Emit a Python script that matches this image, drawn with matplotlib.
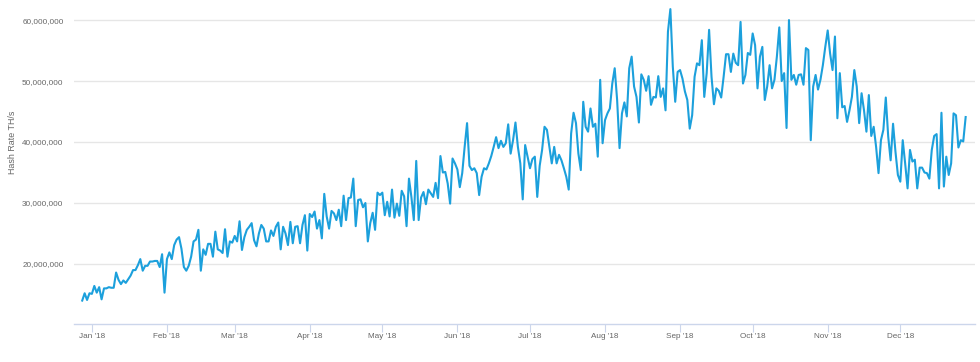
import pandas as pd
import matplotlib.pyplot as plt
from matplotlib.ticker import FuncFormatter

plt.rcParams['font.family'] = ['Liberation Sans', 'DejaVu Sans']

# daily hash rate, millions of TH/s, starting 2017-12-28
start_date = "2017-12-28"
hash_rate_m = [
    14.0, 15.2, 14.1, 15.2, 15.1, 16.4, 15.3, 16.2, 14.2, 16.0,
    16.0, 16.2, 16.1, 16.1, 18.6, 17.4, 16.7, 17.3, 16.9, 17.5,
    18.1, 19.0, 19.0, 19.8, 20.8, 18.9, 19.7, 19.7, 20.4, 20.4,
    20.5, 20.5, 19.5, 21.6, 15.3, 20.8, 21.9, 20.8, 23.1, 24.0,
    24.4, 22.5,
    19.5, 18.9, 19.7, 21.2, 23.7, 24.0, 25.6, 18.9, 22.4, 21.5,
    23.3, 23.3, 21.2, 25.3, 22.4, 22.2, 21.8, 25.7, 21.2, 23.7,
    23.5, 24.6, 23.7, 27.0, 22.3, 24.4, 25.6, 26.1, 26.7, 23.9,
    22.9, 25.0, 26.4, 25.8, 23.7, 23.7, 25.5, 24.6, 26.1, 26.8,
    22.4, 26.1,
    25.0, 23.1, 26.9, 23.4, 26.1, 26.2, 23.4, 26.4, 28.0, 22.2,
    28.2, 27.7, 28.6, 25.8, 27.2, 24.2, 31.5, 27.8, 25.8, 28.7,
    28.3, 27.2, 28.9, 26.2, 31.2, 27.2, 30.8, 30.9, 34.0, 26.2,
    30.5, 30.6, 29.3, 30.0, 23.7, 26.7, 28.4, 25.6, 31.7, 31.3,
    31.7,
    28.0, 30.2, 27.8, 32.2, 27.6, 29.9, 27.9, 32.0, 31.1, 26.2,
    34.0, 31.0, 27.2, 36.9, 27.2, 30.9, 31.8, 29.8, 32.2, 31.6,
    31.0, 33.3, 30.8, 37.7, 35.0, 35.1, 33.2, 29.9, 37.3, 36.5,
    35.5, 32.6, 34.9, 39.2, 43.1, 36.1, 35.4, 35.7, 34.9, 31.3,
    34.3, 35.7,
    35.5, 36.5, 37.7, 39.2, 40.8, 39.0, 40.2, 39.2, 39.8, 42.9,
    38.1, 40.3, 43.2, 39.2, 36.5, 30.6, 39.5, 37.6, 35.7, 37.2,
    37.6, 31.0, 36.1, 38.7, 42.5, 42.0, 39.2, 36.5, 39.2, 36.5,
    37.9, 37.0, 35.7, 34.3, 32.2, 41.4, 44.8, 43.1, 38.1, 35.4,
    46.6, 42.5,
    41.7, 45.5, 42.5, 43.0, 37.6, 50.2, 39.8, 43.6, 44.7, 45.5,
    49.6, 52.1, 46.9, 39.0, 44.7, 46.5, 44.2, 52.1, 54.0, 49.1,
    47.4, 43.2, 51.1, 50.2, 48.4, 50.8, 46.1, 47.4, 47.3, 50.8,
    47.4, 48.8, 45.2, 58.1, 61.8, 52.4, 46.6, 51.5, 51.8, 50.4,
    48.3,
    46.9, 42.2, 44.4, 50.7, 52.9, 52.6, 56.7, 47.4, 51.3, 58.4,
    50.7, 46.2, 48.8, 48.4, 47.3, 50.7, 54.4, 54.4, 51.5, 54.5,
    53.0, 52.6, 59.7, 49.6, 51.0, 54.6, 54.3, 57.8, 55.9, 48.8,
    54.0, 55.6, 46.9, 49.1, 52.6, 48.8, 50.2, 54.0, 58.8, 50.0,
    51.3,
    42.3, 60.0, 50.2, 51.0, 49.4, 51.0, 51.1, 49.4, 55.4, 55.1,
    40.3, 49.1, 51.0, 48.6, 50.2, 52.6, 55.6, 58.3, 54.5, 51.8,
    57.3, 43.9, 51.3, 45.7, 45.9, 43.3, 45.2, 47.4, 51.8, 49.1,
    43.1, 48.0, 45.2, 41.7, 47.7, 41.0, 42.5, 39.2, 34.9, 40.3,
    42.0, 47.3,
    40.9, 37.0, 43.0, 38.4, 34.6, 33.5, 40.3, 36.5, 32.4, 38.7,
    36.8, 37.1, 32.4, 35.8, 35.8, 35.0, 34.9, 34.0, 38.7, 41.0,
    41.3, 32.4, 44.8, 32.7, 37.6, 34.6, 36.5, 44.7, 44.4, 39.1,
    40.3, 40.1, 44.1,
]

month_ticks = ["2018-01-01", "2018-02-01", "2018-03-01", "2018-04-01",
               "2018-05-01", "2018-06-01", "2018-07-01", "2018-08-01",
               "2018-09-01", "2018-10-01", "2018-11-01", "2018-12-01"]
month_labels = ["Jan '18", "Feb '18", "Mar '18", "Apr '18", "May '18", "Jun '18",
                "Jul '18", "Aug '18", "Sep '18", "Oct '18", "Nov '18", "Dec '18"]
y_ticks = [20e6, 30e6, 40e6, 50e6, 60e6]

dates = pd.date_range(start_date, periods=len(hash_rate_m), freq="D")
values = [v * 1e6 for v in hash_rate_m]

fig = plt.figure(figsize=(9.8, 3.62), dpi=100)
ax = fig.add_axes([0.0755, 0.105, 0.9195, 0.881])

ax.plot(dates, values, color="#1ca0dc", linewidth=1.5, solid_joinstyle="round")

ax.set_xlim(dates[0] - pd.Timedelta(days=3.4), dates[0] + pd.Timedelta(days=368.9))
ax.set_ylim(10.16e6, 62.46e6)

ax.set_yticks(y_ticks)
ax.yaxis.set_major_formatter(FuncFormatter(lambda v, p: f"{v:,.0f}"))
ax.grid(axis="y", color="#e6e6e6", linewidth=1)
ax.set_axisbelow(True)

for s in ["top", "right", "left"]:
    ax.spines[s].set_visible(False)
ax.spines["bottom"].set_color("#ccd6eb")
ax.spines["bottom"].set_linewidth(1)

ax.set_xticks(pd.to_datetime(month_ticks))
ax.set_xticklabels(month_labels)
ax.tick_params(axis="y", length=0, pad=7.5, labelcolor="#666666", labelsize=5.9)
ax.tick_params(axis="x", length=5.8, width=0.8, color="#ccd6eb", labelcolor="#666666",
               labelsize=5.9, pad=0.5)

fig.text(0.013, 0.608, "Hash Rate TH/s", rotation=90, ha="center", va="center",
         color="#666666", fontsize=6.4)

fig.savefig("out.png", dpi=100)
